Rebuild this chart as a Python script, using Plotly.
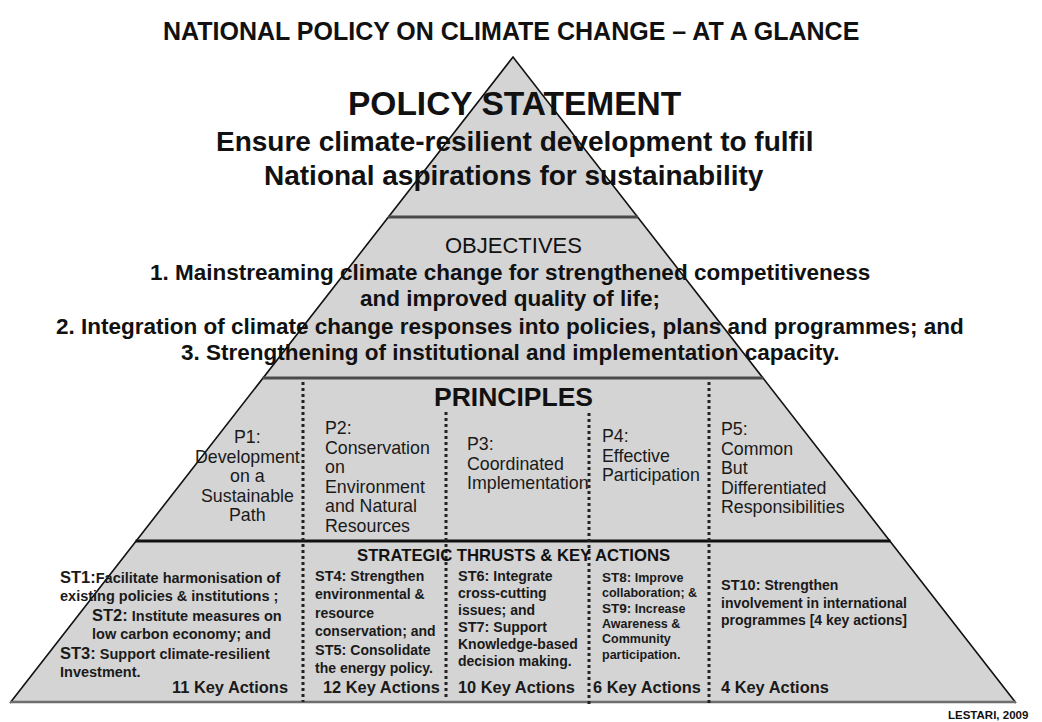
import re
import plotly.graph_objects as go

# ---------------- data (text content) ----------------
TITLE = "NATIONAL POLICY ON CLIMATE CHANGE – AT A GLANCE"
STATEMENT_HEAD = "POLICY STATEMENT"
STATEMENT_LINES = ["Ensure climate-resilient development to fulfil",
                   "National aspirations for sustainability"]
OBJ_HEAD = "OBJECTIVES"
OBJ_LINES = ["1. Mainstreaming climate change for strengthened competitiveness",
             "and improved quality of life;",
             "2. Integration of climate change responses into policies, plans and programmes; and",
             "3. Strengthening of institutional and implementation capacity."]
PRIN_HEAD = "PRINCIPLES"
PRINCIPLES = [
    ["P1:", "Development", "on a", "Sustainable", "Path"],
    ["P2:", "Conservation", "on", "Environment", "and Natural", "Resources"],
    ["P3:", "Coordinated", "Implementation"],
    ["P4:", "Effective", "Participation"],
    ["P5:", "Common", "But", "Differentiated", "Responsibilities"],
]
ST_HEAD = "STRATEGIC THRUSTS & KEY ACTIONS"
THRUSTS = [
    ["ST1:Facilitate harmonisation of", "existing policies & institutions ;",
     "ST2: Institute measures on", "low carbon economy; and",
     "ST3: Support climate-resilient", "Investment."],
    ["ST4: Strengthen", "environmental &", "resource", "conservation; and",
     "ST5: Consolidate", "the energy policy."],
    ["ST6: Integrate", "cross-cutting", "issues; and", "ST7: Support",
     "Knowledge-based", "decision making."],
    ["ST8: Improve", "collaboration; &", "ST9: Increase", "Awareness &",
     "Community", "participation."],
    ["ST10: Strengthen", "involvement in international", "programmes [4 key actions]"],
]
KEY_ACTIONS = [11, 12, 10, 6, 4]
SOURCE = "LESTARI, 2009"

# ---------------- layout / geometry ----------------
W, H = 1042, 722
OFF = 8  # default page margin of the html body
APEX = (513, 57)
BASE_Y = 702
BASE_HALF = 503
TIER_Y = [217, 378, 541]
FONT = "Liberation Sans, Arial, sans-serif"


def half_width(y):
    return (y - APEX[1]) / (BASE_Y - APEX[1]) * BASE_HALF


fig = go.Figure()

# pyramid body
fig.add_trace(go.Scatter(
    x=[APEX[0], APEX[0] + BASE_HALF, APEX[0] - BASE_HALF, APEX[0]],
    y=[APEX[1], BASE_Y, BASE_Y, APEX[1]],
    mode="lines", fill="toself", fillcolor="#d4d4d4",
    line=dict(width=0, color="rgba(0,0,0,0)"), hoverinfo="skip", showlegend=False))

shapes = []
# base line
shapes.append(dict(type="line", x0=APEX[0] - BASE_HALF, x1=APEX[0] + BASE_HALF,
                   y0=BASE_Y, y1=BASE_Y, line=dict(color="#6e6e6e", width=2.5)))
# tier separators
sep_styles = [("#4a4a4a", 3), ("#4a4a4a", 3), ("#111111", 3)]
for ty, (c, w) in zip(TIER_Y, sep_styles):
    hw = half_width(ty)
    shapes.append(dict(type="line", x0=APEX[0] - hw, x1=APEX[0] + hw, y0=ty, y1=ty,
                       line=dict(color=c, width=w)))
# dotted column dividers
DIVIDERS = [(303, 382, 702), (446, 412, 700), (589, 413, 707), (709, 382, 705)]
for dx, y0, y1 in DIVIDERS:
    shapes.append(dict(type="line", x0=dx, x1=dx, y0=y0, y1=y1,
                       line=dict(color="#222222", width=3, dash="3px,3px")))

# sides
fig.add_trace(go.Scatter(
    x=[APEX[0] - BASE_HALF, APEX[0], APEX[0] + BASE_HALF],
    y=[BASE_Y + 1, APEX[1], BASE_Y + 1],
    mode="lines", line=dict(color="#111111", width=1.6),
    hoverinfo="skip", showlegend=False))

ann = []


def txt(s, x, y, size, bold=False, anchor="center", color="#111111"):
    t = f"<b>{s}</b>" if bold else s
    ann.append(dict(text=t, x=x, y=y, xref="x", yref="y", showarrow=False,
                    xanchor=anchor, yanchor="middle",
                    font=dict(family=FONT, size=size, color=color)))


# title & statement
txt(TITLE, 511, 31, 25, bold=True)
txt(STATEMENT_HEAD, 515, 103, 33.5, bold=True)
for s, y in zip(STATEMENT_LINES, [141, 175]):
    txt(s, 514, y, 28, bold=True)

# objectives
txt(OBJ_HEAD, 513, 245, 22)
for s, y in zip(OBJ_LINES, [272, 298, 326, 352]):
    txt(s, 510, y, 22.5, bold=True)

# principles
txt(PRIN_HEAD, 513, 397, 26.5, bold=True)
PRIN_POS = [  # (x, first line y, anchor)
    (247, 437, "center"),
    (323, 428, "left"),
    (465, 444, "left"),
    (600, 436, "left"),
    (719, 429, "left"),
]
for lines, (px, py, anc) in zip(PRINCIPLES, PRIN_POS):
    for i, s in enumerate(lines):
        txt(s, px, py + i * 19.5, 17.8, anchor=anc, color="#1a1a1a")

# strategic thrusts
txt(ST_HEAD, 513, 555, 16.7, bold=True)
THRUST_POS = [  # x, first y, line step, size, prefix size, per-line indent
    (58, 577, 19.0, 14.5, 16.5, [0, 0, 32, 32, 0, 0]),
    (313, 576, 18.4, 14, 14.5, [0] * 6),
    (456, 576, 17.0, 14, 14.5, [0] * 6),
    (600, 577, 15.6, 12.5, 13.5, [0] * 6),
    (719, 585, 17.5, 14, 14.5, [0] * 3),
]
for lines, (sx, sy, step, size, psize, indents) in zip(THRUSTS, THRUST_POS):
    for i, s in enumerate(lines):
        m = re.match(r"^(ST\d+:)(.*)$", s)
        if m:
            body = (f"<span style='font-size:{psize}px'>{m.group(1)}</span>"
                    f"{m.group(2)}")
        else:
            body = s
        txt(body, sx + indents[i], sy + i * step, size, bold=True, anchor="left",
            color="#1a1a1a")

KA_POS = [(170, "left"), (321, "left"), (456, "left"), (591, "left"), (719, "left")]
for n, (kx, anc) in zip(KEY_ACTIONS, KA_POS):
    txt(f"{n} Key Actions", kx, 687, 16.4, bold=True, anchor=anc, color="#1a1a1a")

txt(SOURCE, 1030, 715, 11.5, bold=True, anchor="right")

fig.update_layout(
    width=W - OFF, height=H - OFF, margin=dict(l=0, r=0, t=0, b=0),
    paper_bgcolor="white", plot_bgcolor="white",
    xaxis=dict(range=[OFF, W], visible=False, fixedrange=True),
    yaxis=dict(range=[H, OFF], visible=False, fixedrange=True),
    shapes=shapes, annotations=ann, showlegend=False,
)
fig.write_html("out.html", config={"displayModeBar": False})
